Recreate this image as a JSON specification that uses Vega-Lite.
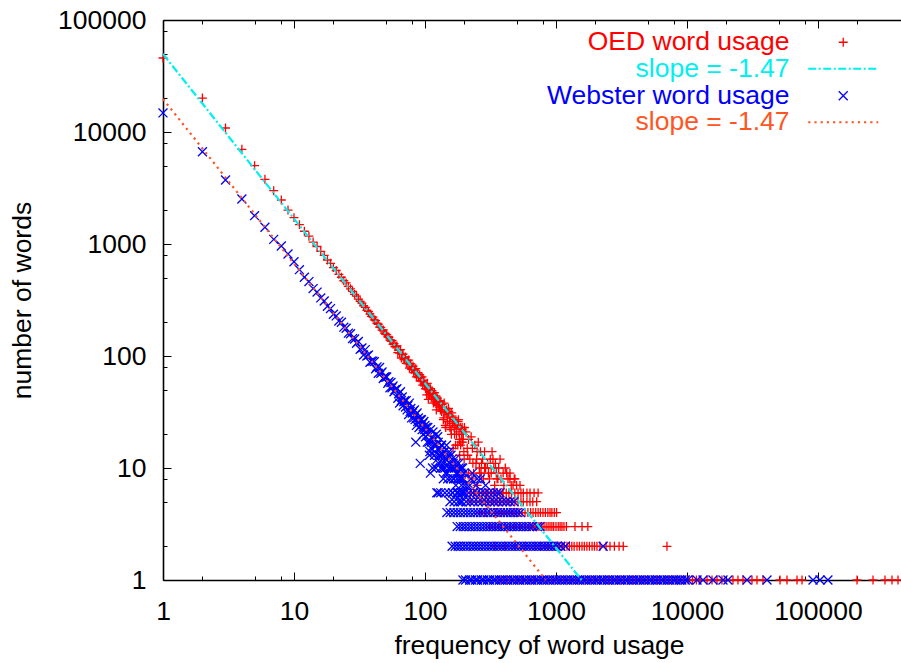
{
"$schema":"https://vega.github.io/schema/vega-lite/v6.json",
"width":738,"height":560,
"autosize":{"type":"none"},
"padding":{"left":163,"top":20,"right":0,"bottom":83},
"background":"white",
"config":{"view":{"stroke":null},"font":"Liberation Sans"},
"datasets":{
"lines":[{"s":"sO","f":1,"n":49660},{"s":"sO","f":1565,"n":1},{"s":"sW","f":1,"n":19720},{"s":"sW","f":835,"n":1}],
"pts":[
{"s":"O","f":1,"n":45800},{"s":"O","f":2,"n":20100},{"s":"O","f":3,"n":10860},{"s":"O","f":4,"n":7010},{"s":"O","f":5,"n":5000},{"s":"O","f":6,"n":3780},{"s":"O","f":7,"n":2990},{"s":"O","f":8,"n":2470},{"s":"O","f":9,"n":2010},
{"s":"O","f":10,"n":1720},{"s":"O","f":11,"n":1490},{"s":"O","f":12,"n":1300},{"s":"O","f":13,"n":1175},{"s":"O","f":14,"n":1040},{"s":"O","f":15,"n":950},{"s":"O","f":16,"n":860},{"s":"O","f":17,"n":790},{"s":"O","f":18,"n":720},{"s":"O","f":19,"n":672},{"s":"O","f":20,"n":615},{"s":"O","f":21,"n":580},{"s":"O","f":22,"n":536},{"s":"O","f":23,"n":505},{"s":"O","f":24,"n":470},{"s":"O","f":25,"n":449},{"s":"O","f":26,"n":418},{"s":"O","f":27,"n":398},{"s":"O","f":28,"n":377},{"s":"O","f":29,"n":355},{"s":"O","f":30,"n":342},
{"s":"O","f":31,"n":322},{"s":"O","f":32,"n":308},{"s":"O","f":33,"n":296},{"s":"O","f":34,"n":281},{"s":"O","f":35,"n":272},{"s":"O","f":36,"n":255},{"s":"O","f":37,"n":250},{"s":"O","f":38,"n":238},{"s":"O","f":39,"n":226},{"s":"O","f":40,"n":222},{"s":"O","f":41,"n":210},{"s":"O","f":42,"n":207},{"s":"O","f":43,"n":196},{"s":"O","f":44,"n":192},{"s":"O","f":45,"n":181},{"s":"O","f":46,"n":180},{"s":"O","f":47,"n":170},{"s":"O","f":48,"n":171},{"s":"O","f":49,"n":160},{"s":"O","f":50,"n":157},{"s":"O","f":51,"n":155},{"s":"O","f":52,"n":148},{"s":"O","f":53,"n":147},{"s":"O","f":54,"n":139},{"s":"O","f":55,"n":136},{"s":"O","f":56,"n":138},{"s":"O","f":57,"n":127},{"s":"O","f":58,"n":129},{"s":"O","f":59,"n":121},{"s":"O","f":60,"n":122},
{"s":"O","f":61,"n":123},{"s":"O","f":62,"n":107},{"s":"O","f":63,"n":113},{"s":"O","f":64,"n":106},{"s":"O","f":65,"n":114},{"s":"O","f":66,"n":96},{"s":"O","f":67,"n":104},{"s":"O","f":68,"n":104},{"s":"O","f":69,"n":93},{"s":"O","f":70,"n":95},{"s":"O","f":71,"n":98},{"s":"O","f":72,"n":86},{"s":"O","f":73,"n":91},{"s":"O","f":74,"n":85},{"s":"O","f":75,"n":92},{"s":"O","f":76,"n":78},{"s":"O","f":77,"n":85},{"s":"O","f":78,"n":85},{"s":"O","f":79,"n":76},{"s":"O","f":80,"n":78},{"s":"O","f":81,"n":81},{"s":"O","f":82,"n":71},{"s":"O","f":83,"n":75},{"s":"O","f":84,"n":71},{"s":"O","f":85,"n":77},{"s":"O","f":86,"n":65},{"s":"O","f":87,"n":71},{"s":"O","f":88,"n":71},{"s":"O","f":89,"n":64},{"s":"O","f":90,"n":66},{"s":"O","f":91,"n":68},{"s":"O","f":92,"n":60},{"s":"O","f":93,"n":64},{"s":"O","f":94,"n":60},{"s":"O","f":95,"n":65},{"s":"O","f":96,"n":55},{"s":"O","f":97,"n":60},{"s":"O","f":98,"n":61},{"s":"O","f":99,"n":54},{"s":"O","f":100,"n":56},
{"s":"O","f":101,"n":51},{"s":"O","f":102,"n":54},{"s":"O","f":103,"n":45},{"s":"O","f":104,"n":57},{"s":"O","f":105,"n":50},{"s":"O","f":106,"n":41},{"s":"O","f":107,"n":52},{"s":"O","f":108,"n":45},{"s":"O","f":109,"n":48},{"s":"O","f":110,"n":51},{"s":"O","f":111,"n":47},{"s":"O","f":112,"n":43},{"s":"O","f":113,"n":49},{"s":"O","f":114,"n":46},{"s":"O","f":115,"n":42},{"s":"O","f":116,"n":38},{"s":"O","f":117,"n":44},{"s":"O","f":118,"n":47},{"s":"O","f":119,"n":39},{"s":"O","f":120,"n":41},{"s":"O","f":121,"n":44},{"s":"O","f":122,"n":33},{"s":"O","f":123,"n":37},{"s":"O","f":124,"n":42},{"s":"O","f":125,"n":40},{"s":"O","f":126,"n":36},{"s":"O","f":127,"n":39},{"s":"O","f":128,"n":38},{"s":"O","f":129,"n":35},{"s":"O","f":130,"n":40},
{"s":"O","f":131,"n":33},{"s":"O","f":132,"n":39},{"s":"O","f":134,"n":32},{"s":"O","f":135,"n":37},{"s":"O","f":136,"n":35},{"s":"O","f":138,"n":27},{"s":"O","f":139,"n":28},{"s":"O","f":140,"n":38},{"s":"O","f":142,"n":31},{"s":"O","f":143,"n":24},{"s":"O","f":144,"n":23},{"s":"O","f":146,"n":33},{"s":"O","f":147,"n":31},{"s":"O","f":148,"n":26},{"s":"O","f":150,"n":30},{"s":"O","f":151,"n":34},{"s":"O","f":152,"n":32},{"s":"O","f":154,"n":26},{"s":"O","f":155,"n":23},{"s":"O","f":156,"n":29},{"s":"O","f":158,"n":22},{"s":"O","f":159,"n":20},{"s":"O","f":160,"n":31},
{"s":"O","f":162,"n":25},{"s":"O","f":163,"n":28},{"s":"O","f":164,"n":15},{"s":"O","f":166,"n":27},{"s":"O","f":167,"n":23},{"s":"O","f":168,"n":20},{"s":"O","f":170,"n":24},{"s":"O","f":171,"n":16},{"s":"O","f":172,"n":27},{"s":"O","f":174,"n":20},{"s":"O","f":175,"n":24},{"s":"O","f":176,"n":24},{"s":"O","f":178,"n":16},{"s":"O","f":179,"n":26},{"s":"O","f":180,"n":27},{"s":"O","f":182,"n":21},{"s":"O","f":183,"n":18},{"s":"O","f":184,"n":13},{"s":"O","f":186,"n":23},{"s":"O","f":187,"n":16},{"s":"O","f":188,"n":17},{"s":"O","f":190,"n":20},{"s":"O","f":191,"n":22},{"s":"O","f":192,"n":23},{"s":"O","f":194,"n":17},{"s":"O","f":195,"n":18},{"s":"O","f":196,"n":20},{"s":"O","f":198,"n":14},{"s":"O","f":199,"n":12},{"s":"O","f":200,"n":23},
{"s":"O","f":205,"n":21},{"s":"O","f":210,"n":15},{"s":"O","f":212,"n":13},{"s":"O","f":215,"n":18},{"s":"O","f":215,"n":9},{"s":"O","f":220,"n":12},{"s":"O","f":225,"n":19},{"s":"O","f":228,"n":8},{"s":"O","f":230,"n":15},{"s":"O","f":232,"n":11},{"s":"O","f":235,"n":9},{"s":"O","f":240,"n":16},{"s":"O","f":245,"n":11},{"s":"O","f":248,"n":12},{"s":"O","f":250,"n":14},{"s":"O","f":250,"n":7},{"s":"O","f":255,"n":17},{"s":"O","f":260,"n":10},{"s":"O","f":262,"n":9},{"s":"O","f":265,"n":14},{"s":"O","f":268,"n":9},{"s":"O","f":270,"n":11},{"s":"O","f":275,"n":12},{"s":"O","f":280,"n":8},{"s":"O","f":285,"n":14},{"s":"O","f":285,"n":10},{"s":"O","f":290,"n":10},{"s":"O","f":295,"n":6},{"s":"O","f":300,"n":11},{"s":"O","f":305,"n":9},{"s":"O","f":310,"n":8},{"s":"O","f":315,"n":12},{"s":"O","f":320,"n":9},{"s":"O","f":325,"n":14},{"s":"O","f":330,"n":12},{"s":"O","f":335,"n":10},{"s":"O","f":340,"n":7},{"s":"O","f":345,"n":11},{"s":"O","f":350,"n":9},{"s":"O","f":355,"n":8},{"s":"O","f":360,"n":8},{"s":"O","f":365,"n":10},{"s":"O","f":370,"n":5},{"s":"O","f":374,"n":12},{"s":"O","f":380,"n":8},{"s":"O","f":390,"n":6},{"s":"O","f":395,"n":9},{"s":"O","f":400,"n":7},{"s":"O","f":410,"n":10},{"s":"O","f":420,"n":9},{"s":"O","f":430,"n":8},{"s":"O","f":445,"n":8},{"s":"O","f":445,"n":9},{"s":"O","f":455,"n":7},{"s":"O","f":470,"n":7},{"s":"O","f":480,"n":8},{"s":"O","f":486,"n":8},{"s":"O","f":500,"n":7},{"s":"O","f":531,"n":7},
{"s":"O","f":221,"n":6},{"s":"O","f":235,"n":6},{"s":"O","f":246,"n":6},{"s":"O","f":260,"n":6},{"s":"O","f":272,"n":6},{"s":"O","f":288,"n":6},{"s":"O","f":303,"n":6},{"s":"O","f":320,"n":6},{"s":"O","f":335,"n":6},{"s":"O","f":355,"n":6},{"s":"O","f":374,"n":6},{"s":"O","f":395,"n":6},{"s":"O","f":417,"n":6},{"s":"O","f":437,"n":6},{"s":"O","f":458,"n":6},{"s":"O","f":485,"n":6},{"s":"O","f":513,"n":6},{"s":"O","f":540,"n":6},{"s":"O","f":563,"n":6},{"s":"O","f":600,"n":6},{"s":"O","f":633,"n":6},{"s":"O","f":680,"n":6},{"s":"O","f":730,"n":6},
{"s":"O","f":221,"n":5},{"s":"O","f":246,"n":5},{"s":"O","f":272,"n":5},{"s":"O","f":290,"n":5},{"s":"O","f":303,"n":5},{"s":"O","f":320,"n":5},{"s":"O","f":335,"n":5},{"s":"O","f":355,"n":5},{"s":"O","f":374,"n":5},{"s":"O","f":395,"n":5},{"s":"O","f":417,"n":5},{"s":"O","f":437,"n":5},{"s":"O","f":458,"n":5},{"s":"O","f":485,"n":5},{"s":"O","f":513,"n":5},{"s":"O","f":540,"n":5},{"s":"O","f":563,"n":5},{"s":"O","f":600,"n":5},{"s":"O","f":633,"n":5},{"s":"O","f":665,"n":5},{"s":"O","f":712,"n":5},
{"s":"O","f":263,"n":4},{"s":"O","f":290,"n":4},{"s":"O","f":322,"n":4},{"s":"O","f":345,"n":4},{"s":"O","f":361,"n":4},{"s":"O","f":380,"n":4},{"s":"O","f":400,"n":4},{"s":"O","f":422,"n":4},{"s":"O","f":445,"n":4},{"s":"O","f":470,"n":4},{"s":"O","f":495,"n":4},{"s":"O","f":522,"n":4},{"s":"O","f":550,"n":4},{"s":"O","f":580,"n":4},{"s":"O","f":610,"n":4},{"s":"O","f":640,"n":4},{"s":"O","f":668,"n":4},{"s":"O","f":700,"n":4},{"s":"O","f":730,"n":4},{"s":"O","f":760,"n":4},{"s":"O","f":795,"n":4},{"s":"O","f":830,"n":4},{"s":"O","f":867,"n":4},{"s":"O","f":900,"n":4},{"s":"O","f":930,"n":4},{"s":"O","f":970,"n":4},{"s":"O","f":1010,"n":4},
{"s":"O","f":313,"n":3},{"s":"O","f":342,"n":3},{"s":"O","f":374,"n":3},{"s":"O","f":408,"n":3},{"s":"O","f":445,"n":3},{"s":"O","f":486,"n":3},{"s":"O","f":531,"n":3},{"s":"O","f":580,"n":3},{"s":"O","f":633,"n":3},{"s":"O","f":660,"n":3},{"s":"O","f":680,"n":3},{"s":"O","f":705,"n":3},{"s":"O","f":730,"n":3},{"s":"O","f":755,"n":3},{"s":"O","f":780,"n":3},{"s":"O","f":810,"n":3},{"s":"O","f":840,"n":3},{"s":"O","f":870,"n":3},{"s":"O","f":900,"n":3},{"s":"O","f":930,"n":3},{"s":"O","f":960,"n":3},{"s":"O","f":1000,"n":3},{"s":"O","f":1040,"n":3},{"s":"O","f":1075,"n":3},{"s":"O","f":1110,"n":3},{"s":"O","f":1150,"n":3},{"s":"O","f":1200,"n":3},{"s":"O","f":1396,"n":3},{"s":"O","f":1580,"n":3},{"s":"O","f":1750,"n":3},
{"s":"O","f":342,"n":2},{"s":"O","f":408,"n":2},{"s":"O","f":486,"n":2},{"s":"O","f":580,"n":2},{"s":"O","f":691,"n":2},{"s":"O","f":760,"n":2},{"s":"O","f":824,"n":2},{"s":"O","f":870,"n":2},{"s":"O","f":930,"n":2},{"s":"O","f":985,"n":2},{"s":"O","f":1018,"n":2},{"s":"O","f":1065,"n":2},{"s":"O","f":1110,"n":2},{"s":"O","f":1155,"n":2},{"s":"O","f":1213,"n":2},{"s":"O","f":1265,"n":2},{"s":"O","f":1320,"n":2},{"s":"O","f":1375,"n":2},{"s":"O","f":1446,"n":2},{"s":"O","f":1510,"n":2},{"s":"O","f":1579,"n":2},{"s":"O","f":1645,"n":2},{"s":"O","f":1720,"n":2},{"s":"O","f":1800,"n":2},{"s":"O","f":1885,"n":2},{"s":"O","f":1965,"n":2},{"s":"O","f":2054,"n":2},{"s":"O","f":2167,"n":2},{"s":"O","f":2409,"n":2},{"s":"O","f":2583,"n":2},{"s":"O","f":2790,"n":2},{"s":"O","f":3030,"n":2},{"s":"O","f":3260,"n":2},{"s":"O","f":7030,"n":2},
{"s":"O","f":374,"n":1},{"s":"O","f":417,"n":1},{"s":"O","f":458,"n":1},{"s":"O","f":513,"n":1},{"s":"O","f":563,"n":1},{"s":"O","f":633,"n":1},{"s":"O","f":695,"n":1},{"s":"O","f":780,"n":1},{"s":"O","f":867,"n":1},{"s":"O","f":960,"n":1},{"s":"O","f":1073,"n":1},{"s":"O","f":1190,"n":1},{"s":"O","f":1320,"n":1},{"s":"O","f":1470,"n":1},{"s":"O","f":1630,"n":1},{"s":"O","f":1818,"n":1},{"s":"O","f":2010,"n":1},{"s":"O","f":2167,"n":1},{"s":"O","f":2330,"n":1},{"s":"O","f":2520,"n":1},{"s":"O","f":2710,"n":1},{"s":"O","f":2930,"n":1},{"s":"O","f":3080,"n":1},{"s":"O","f":3300,"n":1},{"s":"O","f":3560,"n":1},{"s":"O","f":3830,"n":1},{"s":"O","f":4140,"n":1},{"s":"O","f":4377,"n":1},{"s":"O","f":4700,"n":1},{"s":"O","f":5050,"n":1},{"s":"O","f":5450,"n":1},{"s":"O","f":5870,"n":1},{"s":"O","f":6220,"n":1},{"s":"O","f":6690,"n":1},{"s":"O","f":7200,"n":1},{"s":"O","f":7760,"n":1},{"s":"O","f":8350,"n":1},{"s":"O","f":8839,"n":1},{"s":"O","f":9480,"n":1},{"s":"O","f":10200,"n":1},{"s":"O","f":11000,"n":1},{"s":"O","f":11800,"n":1},{"s":"O","f":12560,"n":1},{"s":"O","f":14220,"n":1},{"s":"O","f":15520,"n":1},{"s":"O","f":16940,"n":1},{"s":"O","f":18490,"n":1},{"s":"O","f":22440,"n":1},{"s":"O","f":24490,"n":1},{"s":"O","f":26730,"n":1},{"s":"O","f":31330,"n":1},{"s":"O","f":34200,"n":1},{"s":"O","f":38020,"n":1},{"s":"O","f":51300,"n":1},{"s":"O","f":57960,"n":1},{"s":"O","f":69140,"n":1},{"s":"O","f":75500,"n":1},{"s":"O","f":198600,"n":1},{"s":"O","f":263000,"n":1},{"s":"O","f":324600,"n":1},{"s":"O","f":367000,"n":1},{"s":"O","f":408000,"n":1},
{"s":"W","f":1,"n":14800},{"s":"W","f":2,"n":6670},{"s":"W","f":3,"n":3730},{"s":"W","f":4,"n":2520},{"s":"W","f":5,"n":1790},{"s":"W","f":6,"n":1410},{"s":"W","f":7,"n":1100},{"s":"W","f":8,"n":960},{"s":"W","f":9,"n":815},{"s":"W","f":10,"n":695},
{"s":"W","f":11,"n":590},{"s":"W","f":12,"n":505},{"s":"W","f":13,"n":462},{"s":"W","f":14,"n":400},{"s":"W","f":15,"n":372},{"s":"W","f":16,"n":330},{"s":"W","f":17,"n":310},{"s":"W","f":18,"n":278},{"s":"W","f":19,"n":265},{"s":"W","f":20,"n":236},{"s":"W","f":21,"n":228},{"s":"W","f":22,"n":205},{"s":"W","f":23,"n":200},{"s":"W","f":24,"n":181},{"s":"W","f":25,"n":177},{"s":"W","f":26,"n":160},{"s":"W","f":27,"n":158},{"s":"W","f":28,"n":143},{"s":"W","f":29,"n":142},{"s":"W","f":30,"n":130},
{"s":"W","f":31,"n":135},{"s":"W","f":32,"n":115},{"s":"W","f":33,"n":118},{"s":"W","f":34,"n":102},{"s":"W","f":35,"n":114},{"s":"W","f":36,"n":100},{"s":"W","f":37,"n":102},{"s":"W","f":38,"n":88},{"s":"W","f":39,"n":90},{"s":"W","f":40,"n":90},{"s":"W","f":41,"n":89},{"s":"W","f":42,"n":77},{"s":"W","f":43,"n":80},{"s":"W","f":44,"n":70},{"s":"W","f":45,"n":79},{"s":"W","f":46,"n":70},{"s":"W","f":47,"n":72},{"s":"W","f":48,"n":63},{"s":"W","f":49,"n":65},{"s":"W","f":50,"n":65},{"s":"W","f":51,"n":65},{"s":"W","f":52,"n":57},{"s":"W","f":53,"n":59},{"s":"W","f":54,"n":52},{"s":"W","f":55,"n":58},{"s":"W","f":56,"n":52},{"s":"W","f":57,"n":54},{"s":"W","f":58,"n":48},{"s":"W","f":59,"n":50},{"s":"W","f":60,"n":50},
{"s":"W","f":61,"n":51},{"s":"W","f":62,"n":42},{"s":"W","f":63,"n":46},{"s":"W","f":64,"n":38},{"s":"W","f":65,"n":48},{"s":"W","f":66,"n":40},{"s":"W","f":67,"n":43},{"s":"W","f":68,"n":36},{"s":"W","f":69,"n":39},{"s":"W","f":70,"n":40},{"s":"W","f":71,"n":35},{"s":"W","f":72,"n":40},{"s":"W","f":73,"n":33},{"s":"W","f":74,"n":36},{"s":"W","f":75,"n":30},{"s":"W","f":76,"n":38},{"s":"W","f":77,"n":32},{"s":"W","f":78,"n":34},{"s":"W","f":79,"n":28},{"s":"W","f":80,"n":31},{"s":"W","f":81,"n":32},{"s":"W","f":82,"n":28},{"s":"W","f":83,"n":33},{"s":"W","f":84,"n":27},{"s":"W","f":85,"n":30},{"s":"W","f":86,"n":24},{"s":"W","f":87,"n":31},{"s":"W","f":88,"n":26},{"s":"W","f":89,"n":28},{"s":"W","f":90,"n":23},{"s":"W","f":91,"n":26},{"s":"W","f":92,"n":27},{"s":"W","f":93,"n":24},{"s":"W","f":94,"n":27},{"s":"W","f":95,"n":22},{"s":"W","f":96,"n":25},{"s":"W","f":97,"n":20},{"s":"W","f":98,"n":26},{"s":"W","f":99,"n":22},{"s":"W","f":100,"n":24},
{"s":"W","f":101,"n":19},{"s":"W","f":102,"n":23},{"s":"W","f":103,"n":21},{"s":"W","f":104,"n":17},{"s":"W","f":105,"n":23},{"s":"W","f":106,"n":20},{"s":"W","f":107,"n":17},{"s":"W","f":108,"n":13},{"s":"W","f":109,"n":14},{"s":"W","f":110,"n":22},{"s":"W","f":111,"n":15},{"s":"W","f":112,"n":17},{"s":"W","f":113,"n":19},{"s":"W","f":114,"n":10},{"s":"W","f":115,"n":21},{"s":"W","f":116,"n":18},{"s":"W","f":117,"n":16},{"s":"W","f":118,"n":13},{"s":"W","f":119,"n":14},{"s":"W","f":120,"n":16},{"s":"W","f":121,"n":10},{"s":"W","f":122,"n":20},{"s":"W","f":123,"n":16},{"s":"W","f":124,"n":12},{"s":"W","f":125,"n":19},{"s":"W","f":126,"n":17},{"s":"W","f":127,"n":11},{"s":"W","f":128,"n":13},{"s":"W","f":129,"n":13},{"s":"W","f":130,"n":15},
{"s":"W","f":131,"n":14},{"s":"W","f":132,"n":10},{"s":"W","f":133,"n":16},{"s":"W","f":134,"n":16},{"s":"W","f":135,"n":12},{"s":"W","f":136,"n":13},{"s":"W","f":137,"n":10},{"s":"W","f":138,"n":8},{"s":"W","f":139,"n":11},{"s":"W","f":140,"n":14},{"s":"W","f":141,"n":14},{"s":"W","f":142,"n":10},{"s":"W","f":143,"n":9},{"s":"W","f":144,"n":12},{"s":"W","f":145,"n":12},{"s":"W","f":146,"n":16},{"s":"W","f":148,"n":9},{"s":"W","f":149,"n":8},{"s":"W","f":150,"n":13},{"s":"W","f":152,"n":10},{"s":"W","f":153,"n":14},{"s":"W","f":154,"n":11},{"s":"W","f":156,"n":8},{"s":"W","f":157,"n":10},{"s":"W","f":158,"n":13},{"s":"W","f":160,"n":10},
{"s":"W","f":161,"n":12},{"s":"W","f":162,"n":6},{"s":"W","f":164,"n":11},{"s":"W","f":165,"n":8},{"s":"W","f":166,"n":8},{"s":"W","f":168,"n":10},{"s":"W","f":169,"n":10},{"s":"W","f":170,"n":12},{"s":"W","f":172,"n":7},{"s":"W","f":173,"n":9},{"s":"W","f":174,"n":11},{"s":"W","f":176,"n":8},{"s":"W","f":177,"n":6},{"s":"W","f":178,"n":9},{"s":"W","f":180,"n":6},{"s":"W","f":181,"n":11},{"s":"W","f":182,"n":10},{"s":"W","f":184,"n":8},{"s":"W","f":185,"n":8},{"s":"W","f":186,"n":5},{"s":"W","f":188,"n":9},{"s":"W","f":189,"n":10},{"s":"W","f":190,"n":7},{"s":"W","f":192,"n":8},{"s":"W","f":193,"n":6},{"s":"W","f":194,"n":10},{"s":"W","f":196,"n":6},{"s":"W","f":197,"n":8},{"s":"W","f":198,"n":9},{"s":"W","f":200,"n":7},
{"s":"W","f":92,"n":11},{"s":"W","f":126,"n":6},{"s":"W","f":85,"n":17},{"s":"W","f":110,"n":9},{"s":"W","f":210,"n":7},{"s":"W","f":220,"n":7},{"s":"W","f":225,"n":8},{"s":"W","f":230,"n":9},{"s":"W","f":245,"n":7},{"s":"W","f":250,"n":8},{"s":"W","f":265,"n":8},{"s":"W","f":290,"n":7},
{"s":"W","f":123,"n":6},{"s":"W","f":132,"n":6},{"s":"W","f":142,"n":6},{"s":"W","f":152,"n":6},{"s":"W","f":163,"n":6},{"s":"W","f":175,"n":6},{"s":"W","f":188,"n":6},{"s":"W","f":202,"n":6},{"s":"W","f":216,"n":6},{"s":"W","f":232,"n":6},{"s":"W","f":249,"n":6},{"s":"W","f":267,"n":6},{"s":"W","f":287,"n":6},{"s":"W","f":308,"n":6},{"s":"W","f":331,"n":6},{"s":"W","f":355,"n":6},{"s":"W","f":374,"n":6},
{"s":"W","f":155,"n":5},{"s":"W","f":167,"n":5},{"s":"W","f":179,"n":5},{"s":"W","f":192,"n":5},{"s":"W","f":206,"n":5},{"s":"W","f":221,"n":5},{"s":"W","f":237,"n":5},{"s":"W","f":254,"n":5},{"s":"W","f":273,"n":5},{"s":"W","f":293,"n":5},{"s":"W","f":314,"n":5},{"s":"W","f":337,"n":5},{"s":"W","f":362,"n":5},{"s":"W","f":388,"n":5},{"s":"W","f":416,"n":5},{"s":"W","f":446,"n":5},{"s":"W","f":478,"n":5},
{"s":"W","f":147,"n":4},{"s":"W","f":156,"n":4},{"s":"W","f":166,"n":4},{"s":"W","f":176,"n":4},{"s":"W","f":186,"n":4},{"s":"W","f":198,"n":4},{"s":"W","f":210,"n":4},{"s":"W","f":222,"n":4},{"s":"W","f":236,"n":4},{"s":"W","f":250,"n":4},{"s":"W","f":265,"n":4},{"s":"W","f":281,"n":4},{"s":"W","f":298,"n":4},{"s":"W","f":316,"n":4},{"s":"W","f":335,"n":4},{"s":"W","f":356,"n":4},{"s":"W","f":377,"n":4},{"s":"W","f":400,"n":4},{"s":"W","f":424,"n":4},{"s":"W","f":450,"n":4},{"s":"W","f":477,"n":4},{"s":"W","f":505,"n":4},{"s":"W","f":535,"n":4},
{"s":"W","f":176,"n":3},{"s":"W","f":186,"n":3},{"s":"W","f":196,"n":3},{"s":"W","f":206,"n":3},{"s":"W","f":218,"n":3},{"s":"W","f":229,"n":3},{"s":"W","f":242,"n":3},{"s":"W","f":255,"n":3},{"s":"W","f":269,"n":3},{"s":"W","f":283,"n":3},{"s":"W","f":299,"n":3},{"s":"W","f":315,"n":3},{"s":"W","f":332,"n":3},{"s":"W","f":350,"n":3},{"s":"W","f":369,"n":3},{"s":"W","f":389,"n":3},{"s":"W","f":410,"n":3},{"s":"W","f":432,"n":3},{"s":"W","f":455,"n":3},{"s":"W","f":480,"n":3},{"s":"W","f":506,"n":3},{"s":"W","f":533,"n":3},{"s":"W","f":562,"n":3},{"s":"W","f":593,"n":3},{"s":"W","f":625,"n":3},{"s":"W","f":660,"n":3},{"s":"W","f":720,"n":3},{"s":"W","f":755,"n":3},
{"s":"W","f":161,"n":2},{"s":"W","f":170,"n":2},{"s":"W","f":179,"n":2},{"s":"W","f":188,"n":2},{"s":"W","f":199,"n":2},{"s":"W","f":209,"n":2},{"s":"W","f":221,"n":2},{"s":"W","f":233,"n":2},{"s":"W","f":245,"n":2},{"s":"W","f":258,"n":2},{"s":"W","f":272,"n":2},{"s":"W","f":287,"n":2},{"s":"W","f":303,"n":2},{"s":"W","f":319,"n":2},{"s":"W","f":336,"n":2},{"s":"W","f":355,"n":2},{"s":"W","f":374,"n":2},{"s":"W","f":394,"n":2},{"s":"W","f":415,"n":2},{"s":"W","f":438,"n":2},{"s":"W","f":462,"n":2},{"s":"W","f":487,"n":2},{"s":"W","f":513,"n":2},{"s":"W","f":541,"n":2},{"s":"W","f":570,"n":2},{"s":"W","f":601,"n":2},{"s":"W","f":633,"n":2},{"s":"W","f":668,"n":2},{"s":"W","f":704,"n":2},{"s":"W","f":742,"n":2},{"s":"W","f":782,"n":2},{"s":"W","f":824,"n":2},{"s":"W","f":869,"n":2},{"s":"W","f":916,"n":2},{"s":"W","f":965,"n":2},{"s":"W","f":1018,"n":2},{"s":"W","f":1090,"n":2},{"s":"W","f":1180,"n":2},{"s":"W","f":2290,"n":2},
{"s":"W","f":195,"n":1},{"s":"W","f":204,"n":1},{"s":"W","f":219,"n":1},{"s":"W","f":228,"n":1},{"s":"W","f":243,"n":1},{"s":"W","f":252,"n":1},{"s":"W","f":270,"n":1},{"s":"W","f":281,"n":1},{"s":"W","f":299,"n":1},{"s":"W","f":312,"n":1},{"s":"W","f":333,"n":1},{"s":"W","f":347,"n":1},{"s":"W","f":370,"n":1},{"s":"W","f":386,"n":1},{"s":"W","f":411,"n":1},{"s":"W","f":429,"n":1},{"s":"W","f":456,"n":1},{"s":"W","f":477,"n":1},{"s":"W","f":507,"n":1},{"s":"W","f":530,"n":1},{"s":"W","f":563,"n":1},{"s":"W","f":589,"n":1},{"s":"W","f":626,"n":1},{"s":"W","f":655,"n":1},{"s":"W","f":696,"n":1},{"s":"W","f":728,"n":1},{"s":"W","f":773,"n":1},{"s":"W","f":809,"n":1},{"s":"W","f":858,"n":1},{"s":"W","f":899,"n":1},{"s":"W","f":953,"n":1},{"s":"W","f":1000,"n":1},{"s":"W","f":1060,"n":1},{"s":"W","f":1110,"n":1},{"s":"W","f":1177,"n":1},{"s":"W","f":1233,"n":1},{"s":"W","f":1309,"n":1},{"s":"W","f":1370,"n":1},{"s":"W","f":1455,"n":1},{"s":"W","f":1522,"n":1},{"s":"W","f":1616,"n":1},{"s":"W","f":1691,"n":1},{"s":"W","f":1796,"n":1},{"s":"W","f":1880,"n":1},{"s":"W","f":1996,"n":1},{"s":"W","f":2089,"n":1},{"s":"W","f":2218,"n":1},{"s":"W","f":2321,"n":1},{"s":"W","f":2464,"n":1},{"s":"W","f":2580,"n":1},{"s":"W","f":2738,"n":1},{"s":"W","f":2866,"n":1},{"s":"W","f":3042,"n":1},{"s":"W","f":3185,"n":1},{"s":"W","f":3380,"n":1},{"s":"W","f":3540,"n":1},{"s":"W","f":3756,"n":1},{"s":"W","f":3933,"n":1},{"s":"W","f":4173,"n":1},{"s":"W","f":4370,"n":1},{"s":"W","f":4637,"n":1},{"s":"W","f":4856,"n":1},{"s":"W","f":5153,"n":1},{"s":"W","f":5396,"n":1},{"s":"W","f":5725,"n":1},{"s":"W","f":5996,"n":1},{"s":"W","f":6362,"n":1},{"s":"W","f":6662,"n":1},{"s":"W","f":7070,"n":1},{"s":"W","f":7403,"n":1},{"s":"W","f":7856,"n":1},{"s":"W","f":8226,"n":1},{"s":"W","f":8728,"n":1},{"s":"W","f":9140,"n":1},{"s":"W","f":9700,"n":1},{"s":"W","f":10150,"n":1},{"s":"W","f":11920,"n":1},{"s":"W","f":13250,"n":1},{"s":"W","f":15780,"n":1},{"s":"W","f":18820,"n":1},{"s":"W","f":20540,"n":1},{"s":"W","f":28710,"n":1},{"s":"W","f":40800,"n":1},{"s":"W","f":91600,"n":1},{"s":"W","f":103500,"n":1},{"s":"W","f":119000,"n":1}
]},
"layer":[
{"data":{"name":"pts"},"transform":[{"filter":"datum.s == 'O'"}],
 "mark":{"type":"point","shape":"M-1,0H1M0,-1V1","size":80,"filled":false,"strokeWidth":1.3,"opacity":1},
 "encoding":{
  "x":{"field":"f","type":"quantitative","scale":{"type":"log","domain":[1,430000],"nice":false},
   "axis":{"orient":"bottom","values":[1,10,100,1000,10000,100000],"format":"d","grid":false,"tickSize":-8,"tickWidth":1,"tickColor":"#000","domainColor":"#000","domainWidth":1.6,"labelPadding":26,"labelFont":"Liberation Sans","labelFontSize":26.5,"labelColor":"#000","labelFlush":false,"labelOverlap":false,"title":"frequency of word usage","titleFont":"Liberation Sans","titleFontSize":26.5,"titleFontWeight":"normal","titleColor":"#000","titleX":376,"titleY":73,"titleAlign":"center","titleBaseline":"alphabetic"}},
  "y":{"field":"n","type":"quantitative","scale":{"type":"log","domain":[1,100000],"nice":false},
   "axis":{"orient":"left","values":[1,10,100,1000,10000,100000],"format":"d","grid":false,"tickSize":-8,"tickWidth":1,"tickColor":"#000","domainColor":"#000","domainWidth":1.6,"labelPadding":25,"labelFont":"Liberation Sans","labelFontSize":26.5,"labelColor":"#000","labelFlush":false,"labelOverlap":false,"title":"number of words","titleFont":"Liberation Sans","titleFontSize":26.5,"titleFontWeight":"normal","titleColor":"#000","titleAngle":270,"titleX":-141,"titleY":280,"titleAlign":"center","titleBaseline":"middle"}},
  "color":{"field":"s","type":"nominal","scale":{"domain":["O"],"range":["#ff0000"]},
   "legend":{"orient":"none","legendX":667,"legendY":9,"title":null,"padding":0,"symbolSize":80,"symbolType":"M-1,0H1M0,-1V1","symbolStrokeWidth":1.3,"symbolStrokeColor":"#ff0000","symbolFillColor":"transparent","symbolOpacity":1,"labelColor":"#ff0000","labelFont":"Liberation Sans","labelFontSize":26.5,"labelLimit":500,"labelAlign":"right","labelOffset":-67,"labelExpr":"'OED word usage'"}}
 }},
{"data":{"name":"pts"},"transform":[{"filter":"datum.s == 'W'"}],
 "mark":{"type":"point","shape":"M-1,-1L1,1M-1,1L1,-1","size":80,"filled":false,"strokeWidth":1.3,"opacity":1},
 "encoding":{
  "x":{"field":"f","type":"quantitative","scale":{"type":"log","domain":[1,430000],"nice":false},
   "axis":{"orient":"bottom","values":[2,5,8,20,50,80,200,500,800,2000,5000,8000,20000,50000,80000,200000],"labels":false,"domain":false,"grid":false,"tickSize":-4,"tickWidth":1,"tickColor":"#000","title":null}},
  "y":{"field":"n","type":"quantitative","scale":{"type":"log","domain":[1,100000],"nice":false},
   "axis":{"orient":"left","values":[2,5,8,20,50,80,200,500,800,2000,5000,8000,20000,50000,80000],"labels":false,"domain":false,"grid":false,"tickSize":-4,"tickWidth":1,"tickColor":"#000","title":null}},
  "color":{"field":"s","type":"nominal","scale":{"domain":["W"],"range":["#0000ff"]},
   "legend":{"orient":"none","legendX":667,"legendY":62.5,"title":null,"padding":0,"symbolSize":80,"symbolType":"M-1,-1L1,1M-1,1L1,-1","symbolStrokeWidth":1.3,"symbolStrokeColor":"#0000ff","symbolFillColor":"transparent","symbolOpacity":1,"labelColor":"#0000ff","labelFont":"Liberation Sans","labelFontSize":26.5,"labelLimit":500,"labelAlign":"right","labelOffset":-67,"labelExpr":"'Webster word usage'"}}
 }},
{"data":{"name":"lines"},"transform":[{"filter":"datum.s == 'sO'"}],
 "mark":{"type":"line","strokeWidth":2.2,"strokeDash":[8,2.5,2,2.5]},
 "encoding":{
  "x":{"field":"f","type":"quantitative","scale":{"type":"log","domain":[1,430000],"nice":false},
   "axis":{"orient":"top","values":[1,10,100,1000,10000,100000],"labels":false,"domain":true,"domainColor":"#000","domainWidth":1.6,"grid":false,"tickSize":-8,"tickWidth":1,"tickColor":"#000","title":null}},
  "y":{"field":"n","type":"quantitative","scale":{"type":"log","domain":[1,100000],"nice":false},"axis":null},
  "color":{"field":"s","type":"nominal","scale":{"domain":["sO"],"range":["#00f0f0"]},
   "legend":{"orient":"none","legendX":667,"legendY":35.5,"title":null,"padding":0,"symbolSize":80,"symbolType":"M-7.83,0H7.83","symbolStrokeWidth":2.2,"symbolDash":[8,2.5,2,2.5],"symbolStrokeColor":"#00f0f0","symbolFillColor":"transparent","symbolOpacity":1,"labelColor":"#00f0f0","labelFont":"Liberation Sans","labelFontSize":26.5,"labelLimit":500,"labelAlign":"right","labelOffset":-67,"labelExpr":"'slope = -1.47'"}}
 }},
{"data":{"name":"lines"},"transform":[{"filter":"datum.s == 'sW'"}],
 "mark":{"type":"line","strokeWidth":2.2,"strokeDash":[2.2,4]},
 "encoding":{
  "x":{"field":"f","type":"quantitative","scale":{"type":"log","domain":[1,430000],"nice":false},
   "axis":{"orient":"top","values":[2,5,8,20,50,80,200,500,800,2000,5000,8000,20000,50000,80000,200000],"labels":false,"domain":false,"grid":false,"tickSize":-4,"tickWidth":1,"tickColor":"#000","title":null}},
  "y":{"field":"n","type":"quantitative","scale":{"type":"log","domain":[1,100000],"nice":false},"axis":null},
  "color":{"field":"s","type":"nominal","scale":{"domain":["sW"],"range":["#ff5522"]},
   "legend":{"orient":"none","legendX":667,"legendY":89,"title":null,"padding":0,"symbolSize":80,"symbolType":"M-7.83,0H7.83","symbolStrokeWidth":2.2,"symbolDash":[2.2,4],"symbolStrokeColor":"#ff5522","symbolFillColor":"transparent","symbolOpacity":1,"labelColor":"#ff5522","labelFont":"Liberation Sans","labelFontSize":26.5,"labelLimit":500,"labelAlign":"right","labelOffset":-67,"labelExpr":"'slope = -1.47'"}}
 }}
],
"resolve":{"axis":{"x":"independent","y":"independent"},"scale":{"color":"independent"},"legend":{"color":"independent"}}
}
